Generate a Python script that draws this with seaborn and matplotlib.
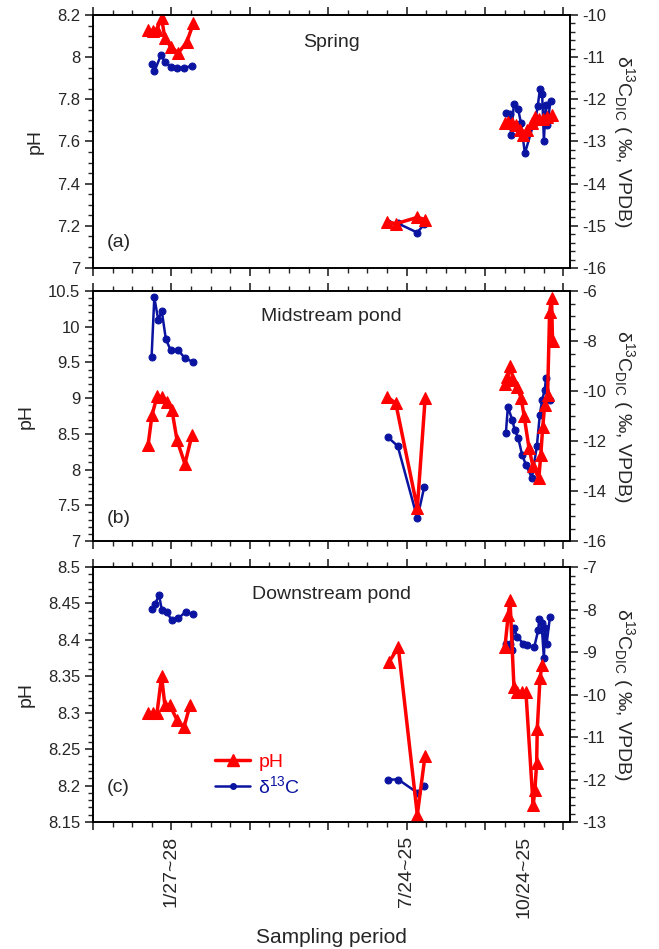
import matplotlib
matplotlib.use("Agg")
import matplotlib.pyplot as plt
from matplotlib.lines import Line2D
from matplotlib.ticker import MultipleLocator, FuncFormatter
import pandas as pd
import seaborn as sns

# x = position along the sampling axis (1 unit = one minor tick)
# ---- Spring ----
spring_ph_x = [[2.82, 3.08, 3.25, 3.5, 3.67, 3.96, 4.35, 4.78, 5.12],
               [15.0, 15.45, 16.55, 16.95],
               [21.02, 21.19, 21.36, 21.58, 21.79, 21.92, 22.16, 22.38, 22.55, 22.77, 22.97, 23.18, 23.4]]
spring_ph = [[8.13, 8.125, 8.13, 8.185, 8.09, 8.05, 8.02, 8.07, 8.16],
             [7.22, 7.21, 7.24, 7.23],
             [7.686, 7.694, 7.686, 7.678, 7.654, 7.63, 7.654, 7.686, 7.715, 7.705, 7.705, 7.715, 7.726]]
spring_c_x = [[2.99, 3.13, 3.47, 3.67, 3.96, 4.3, 4.66, 5.04],
              [15.05, 15.55, 16.55, 16.9],
              [21.07, 21.28, 21.33, 21.48, 21.7, 21.84, 22.04, 22.46, 22.59, 22.69, 22.81, 22.92, 23.01, 23.1, 23.18, 23.35]]
spring_c = [[-11.16, -11.34, -10.95, -11.11, -11.23, -11.26, -11.26, -11.2],
            [-14.94, -14.94, -15.16, -14.96],
            [-12.32, -12.35, -12.85, -12.11, -12.24, -12.57, -13.28, -12.61, -12.45, -12.17, -11.76, -11.88, -12.98, -12.13, -12.61, -12.04]]

# ---- Midstream pond ----
mid_ph_x = [[2.81, 3.01, 3.27, 3.52, 3.78, 4.03, 4.29, 4.69, 5.05],
            [15.0, 15.45, 16.55, 16.95],
            [21.0, 21.15, 21.3, 21.45, 21.65, 21.85, 22.0, 22.25, 22.45, 22.75, 22.85, 22.95, 23.05, 23.2, 23.3, 23.4, 23.45]]
mid_ph = [[8.34, 8.76, 9.03, 9.01, 8.95, 8.83, 8.41, 8.08, 8.48],
          [9.02, 8.93, 7.46, 9.0],
          [9.2, 9.3, 9.45, 9.25, 9.15, 9.0, 8.75, 8.3, 8.05, 7.88, 8.2, 8.6, 8.9, 9.05, 10.2, 10.4, 9.8]]
mid_c_x = [[2.99, 3.13, 3.33, 3.51, 3.72, 3.96, 4.35, 4.69, 5.09],
           [15.05, 15.55, 16.55, 16.9],
           [21.07, 21.17, 21.4, 21.52, 21.7, 21.9, 22.1, 22.4, 22.65, 22.8, 22.92, 23.05, 23.12, 23.3]]
mid_c = [[-8.63, -6.25, -7.16, -6.8, -7.93, -8.36, -8.36, -8.69, -8.83],
         [-11.85, -12.2, -15.09, -13.85],
         [-11.68, -10.64, -11.16, -11.56, -11.88, -12.56, -12.96, -13.48, -12.2, -10.96, -10.36, -9.96, -9.48, -10.36]]

# ---- Downstream pond ----
down_ph_x = [[2.81, 3.06, 3.27, 3.5, 3.67, 3.93, 4.29, 4.64, 4.95],
             [15.12, 15.58, 16.55, 16.94],
             [21.02, 21.19, 21.28, 21.48, 21.65, 21.87, 22.09, 22.46, 22.55, 22.64, 22.67, 22.81, 22.92]]
down_ph = [[8.30, 8.30, 8.30, 8.35, 8.31, 8.31, 8.29, 8.28, 8.31],
           [8.37, 8.39, 8.16, 8.24],
           [8.39, 8.434, 8.455, 8.336, 8.329, 8.329, 8.329, 8.173, 8.194, 8.231, 8.277, 8.347, 8.366]]
down_c_x = [[2.99, 3.16, 3.37, 3.51, 3.76, 4.01, 4.35, 4.74, 5.08],
            [15.07, 15.58, 16.55, 16.9],
            [21.07, 21.28, 21.36, 21.48, 21.65, 21.95, 22.16, 22.52, 22.72, 22.77, 22.89, 23.01, 23.06, 23.15, 23.32]]
down_c = [[-7.99, -7.88, -7.66, -8.0, -8.05, -8.25, -8.21, -8.05, -8.11],
          [-12.0, -12.0, -12.31, -12.15],
          [-8.80, -8.81, -8.95, -8.44, -8.64, -8.80, -8.84, -8.88, -8.48, -8.23, -8.32, -9.15, -8.44, -8.80, -8.17]]

panel_titles = ['Spring', 'Midstream pond', 'Downstream pond']
panel_tags = ['(a)', '(b)', '(c)']
period_labels = {4: '1/27~28', 16: '7/24~25', 22: '10/24~25'}

RED = '#FF0000'
BLUE = '#0A14A0'

sns.set_style('ticks')
plt.rcParams['font.family'] = ['Liberation Sans', 'DejaVu Sans']
plt.rcParams['mathtext.fontset'] = 'custom'
plt.rcParams['mathtext.rm'] = 'Liberation Sans'
plt.rcParams['mathtext.it'] = 'Liberation Sans:italic'


def to_frame(xs, ys):
    rows = []
    for g, (gx, gy) in enumerate(zip(xs, ys)):
        for a, b in zip(gx, gy):
            rows.append((g, a, b))
    return pd.DataFrame(rows, columns=['grp', 'x', 'y'])


def num_fmt(v, pos):
    return f'{v:g}'


def style_axis(ax, ymin, ymax, major, minor):
    ax.set_ylim(ymin, ymax)
    ax.yaxis.set_major_locator(MultipleLocator(major))
    ax.yaxis.set_minor_locator(MultipleLocator(minor))
    ax.yaxis.set_major_formatter(FuncFormatter(num_fmt))
    ax.tick_params(axis='y', which='major', direction='out', length=6, width=1.2,
                   labelsize=12, pad=3)
    ax.tick_params(axis='y', which='minor', direction='out', length=3.5, width=1)


fig = plt.figure(figsize=(6.59, 9.49), dpi=100)
boxes = [(0.1411, 0.7176, 0.7238, 0.2666),
         (0.1411, 0.4299, 0.7238, 0.2634),
         (0.1411, 0.1338, 0.7238, 0.2687)]
ph_sets = [(spring_ph_x, spring_ph), (mid_ph_x, mid_ph), (down_ph_x, down_ph)]
c_sets = [(spring_c_x, spring_c), (mid_c_x, mid_c), (down_c_x, down_c)]
ph_lims = [(7, 8.2, 0.2, 0.05), (7, 10.5, 0.5, 0.1), (8.15, 8.5, 0.05, 0.01)]
c_lims = [(-16, -10, 1, 0.2), (-16, -6, 2, 0.5), (-13, -7, 1, 0.2)]
title_y = [0.89, 0.9, 0.893]
tag_y = [0.1, 0.09, 0.135]
c_label = 'δ$^{13}$C$_{\\rm DIC}$ ( ‰, VPDB)'

for i in range(3):
    ax = fig.add_axes(boxes[i])
    ax2 = ax.twinx()
    cdf = to_frame(*c_sets[i])
    sns.lineplot(data=cdf, x='x', y='y', units='grp', estimator=None, sort=False,
                 color=BLUE, marker='o', markersize=5, markeredgecolor=BLUE,
                 linewidth=1.8, ax=ax2, legend=False)
    pdf = to_frame(*ph_sets[i])
    sns.lineplot(data=pdf, x='x', y='y', units='grp', estimator=None, sort=False,
                 color=RED, marker='^', markersize=9, markeredgecolor=RED,
                 linewidth=2.5, ax=ax, legend=False)
    ax.set_zorder(ax2.get_zorder() + 1)
    ax.patch.set_visible(False)

    style_axis(ax, *ph_lims[i])
    style_axis(ax2, *c_lims[i])
    ax.set_ylabel('pH', fontsize=14, labelpad=10)
    ax2.set_ylabel(c_label, fontsize=14, rotation=270, labelpad=22)

    ax.set_xlim(0, 24.34)
    ax.xaxis.set_major_locator(MultipleLocator(4))
    ax.xaxis.set_minor_locator(MultipleLocator(1))
    ax.tick_params(axis='x', which='major', direction='out', length=6, width=1.2,
                   top=True, bottom=True)
    ax.tick_params(axis='x', which='minor', direction='out', length=3.5, width=1,
                   top=True, bottom=True)
    if i == 2:
        ax.xaxis.set_major_formatter(FuncFormatter(lambda v, p: period_labels.get(int(round(v)), '')
                                                   if abs(v - round(v)) < 1e-6 else ''))
        ax.xaxis.set_minor_formatter(FuncFormatter(lambda v, p: period_labels[22]
                                                   if abs(v - 22) < 1e-6 else ''))
        ax.tick_params(axis='x', which='major', labelrotation=90, labelsize=14, pad=4)
        ax.tick_params(axis='x', which='minor', labelrotation=90, labelsize=14, pad=6.5)
        ax.set_xlabel('Sampling period', fontsize=15, labelpad=7)
    else:
        ax.set_xticklabels([])
        ax.xaxis.set_minor_formatter(FuncFormatter(lambda v, p: ''))
        ax.set_xlabel('')

    for sp in list(ax.spines.values()) + list(ax2.spines.values()):
        sp.set_linewidth(1.2)
        sp.set_color('black')

    ax.text(0.5, title_y[i], panel_titles[i], transform=ax.transAxes,
            ha='center', va='center', fontsize=14)
    ax.text(0.028, tag_y[i], panel_tags[i], transform=ax.transAxes,
            ha='left', va='center', fontsize=14)

    if i == 2:
        handles = [Line2D([], [], color=RED, marker='^', markersize=8, linewidth=2.5),
                   Line2D([], [], color=BLUE, marker='o', markersize=4, linewidth=1.8)]
        ax.legend(handles, ['pH', 'δ$^{13}$C'], loc='lower left',
                  bbox_to_anchor=(0.22, 0.03), frameon=False, fontsize=14,
                  handlelength=1.8, labelspacing=0.2, handletextpad=0.4,
                  labelcolor=[RED, BLUE])

fig.savefig('out.png', dpi=100)
